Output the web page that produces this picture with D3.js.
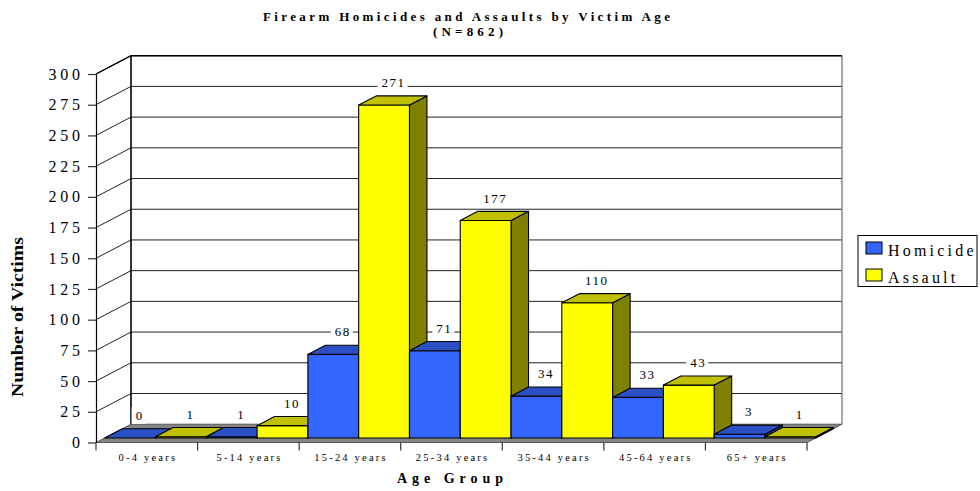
<!DOCTYPE html>
<html>
<head>
<meta charset="utf-8">
<script src="https://cdn.jsdelivr.net/npm/d3@7"></script>
<style>
  html, body { margin: 0; padding: 0; background: #ffffff; }
  svg { display: block; }
  text { font-family: "Liberation Serif", "Times New Roman", Times, serif; fill: #000; }
</style>
</head>
<body>
<script>
// Firearm victims by age group, two series
const categories = ["0-4 years", "5-14 years", "15-24 years", "25-34 years", "35-44 years", "45-64 years", "65+ years"];
const seriesNames = ["Homicide", "Assault"];
const homicide = [0, 1, 68, 71, 34, 33, 3];
const assault = [1, 10, 271, 177, 110, 43, 1];
const yTicks = [0, 25, 50, 75, 100, 125, 150, 175, 200, 225, 250, 275, 300];

const seriesValues = { Homicide: homicide, Assault: assault };
const palette = {
  Homicide: { front: "#3366ff", top: "#2a50c4", side: "#1d3a99" },
  Assault:  { front: "#ffff00", top: "#c0c000", side: "#808000" }
};

const W = 980, H = 491;
const svg = d3.select("body").append("svg").attr("width", W).attr("height", H);

// front plane of the plot and the depth vector of the 3-D box
const x0 = 96, x1 = 807, yBase = 442.5, yTop = 74;
const DX = 35, DY = -18.3;

const x = d3.scaleBand().domain(categories).range([x0, x1]).padding(0);
const xs = d3.scaleBand().domain(seriesNames).range([0, x.bandwidth()]).padding(0);
const y = d3.scaleLinear().domain([0, 300]).range([yBase, yTop]);

const line = d3.line();

// ---- walls ----
const walls = svg.append("g");
walls.append("path")
  .attr("d", line([[x0, y(300)], [x0 + DX, y(300) + DY], [x0 + DX, yBase + DY], [x0, yBase]]) + "Z")
  .attr("fill", "#fff");
walls.append("rect")
  .attr("x", x0 + DX).attr("y", y(300) + DY)
  .attr("width", x1 - x0).attr("height", yBase - y(300))
  .attr("fill", "#fff");

// gridlines on the back and left walls
const grid = svg.append("g").attr("stroke", "#222").attr("stroke-width", 1).attr("fill", "none");
yTicks.filter(t => t > 0).forEach(t => {
  grid.append("path").attr("d", line([[x0 + DX, y(t) + DY], [x1 + DX, y(t) + DY]]));
  grid.append("path").attr("d", line([[x0, y(t)], [x0 + DX, y(t) + DY]]));
});
// wall edges
svg.append("path")
  .attr("d", line([[x0 + DX, y(300) + DY], [x0 + DX, yBase + DY]]))
  .attr("stroke", "#000").attr("stroke-width", 1.6);
svg.append("path")
  .attr("d", line([[x1 + DX, y(300) + DY], [x1 + DX, yBase + DY]]))
  .attr("stroke", "#808080").attr("stroke-width", 1.4);
svg.append("path")
  .attr("d", line([[x0, y(300)], [x0 + DX, y(300) + DY], [x1 + DX, y(300) + DY]]))
  .attr("stroke", "#000").attr("stroke-width", 1.4).attr("fill", "none");

// floor
svg.append("path")
  .attr("d", line([[x0, yBase], [x1, yBase], [x1 + DX, yBase + DY], [x0 + DX, yBase + DY]]) + "Z")
  .attr("fill", "#858585").attr("stroke", "#555").attr("stroke-width", 1);

// ---- axes ----
const yAxis = svg.append("g")
  .attr("transform", `translate(${x0},0)`)
  .call(d3.axisLeft(y).tickValues(yTicks).tickSize(8).tickSizeOuter(0).tickPadding(8));
yAxis.select(".domain").attr("stroke", "#000").attr("stroke-width", 1.2);
yAxis.selectAll(".tick line").attr("stroke", "#333").attr("stroke-width", 1.2);
yAxis.selectAll(".tick text")
  .attr("font-size", 16)
  .attr("letter-spacing", 3.8)
  .attr("dx", 3.8);

// category boundary ticks under the floor
const bounds = categories.map(c => x(c)).concat([x1]);
svg.append("g").selectAll("line").data(bounds).join("line")
  .attr("x1", d => d).attr("x2", d => d)
  .attr("y1", yBase).attr("y2", yBase + 8)
  .attr("stroke", "#333").attr("stroke-width", 1.2);

const xAxis = svg.append("g")
  .attr("transform", `translate(0,${yBase})`)
  .call(d3.axisBottom(x).tickSize(0).tickPadding(11));
xAxis.select(".domain").remove();
xAxis.selectAll(".tick text")
  .attr("font-size", 10.5)
  .attr("letter-spacing", 2.2)
  .attr("dx", 1.1);

// ---- bars, drawn left to right so nearer faces overlap ----
const bars = svg.append("g");
const dF = 0.25, dB = 0.5;   // bar front depth fraction and bar thickness
categories.forEach((cat, i) => {
  seriesNames.forEach(s => {
    const v = seriesValues[s][i];
    const c = palette[s];
    const w = xs.bandwidth();
    const fx = x(cat) + xs(s) + DX * dF;
    const yt = y(v) + DY * dF;
    const yb = yBase + DY * dF;
    const ox = DX * dB, oy = DY * dB;
    const g = bars.append("g").attr("stroke", "#000").attr("stroke-width", 1.1).attr("stroke-linejoin", "round");
    g.append("path").attr("fill", c.side)
      .attr("d", line([[fx + w, yt], [fx + w + ox, yt + oy], [fx + w + ox, yb + oy], [fx + w, yb]]) + "Z");
    if (yb - yt > 0.5) {
      g.append("rect").attr("fill", c.front)
        .attr("x", fx).attr("y", yt).attr("width", w).attr("height", yb - yt);
    }
    g.append("path").attr("fill", c.top)
      .attr("d", line([[fx, yt], [fx + w, yt], [fx + w + ox, yt + oy], [fx + ox, yt + oy]]) + "Z");

    // value label on a white plate
    const lg = bars.append("g");
    const t = lg.append("text")
      .attr("x", fx + w / 2 + DX * dF + 0.75)
      .attr("y", yt - 18)
      .attr("text-anchor", "middle")
      .attr("font-size", 13)
      .attr("letter-spacing", 1.5)
      .text(v);
    const bb = t.node().getBBox();
    lg.insert("rect", "text")
      .attr("x", bb.x - 4).attr("y", bb.y - 1)
      .attr("width", bb.width + 6).attr("height", bb.height + 2)
      .attr("fill", "#fff");
  });
});

// ---- titles ----
svg.append("text")
  .attr("x", 466.5).attr("y", 21)
  .attr("text-anchor", "middle")
  .attr("font-weight", "bold").attr("font-size", 13)
  .attr("textLength", 407).attr("lengthAdjust", "spacing")
  .text("Firearm Homicides and Assaults by Victim Age");
svg.append("text")
  .attr("x", 468).attr("y", 36)
  .attr("text-anchor", "middle")
  .attr("font-weight", "bold").attr("font-size", 13)
  .attr("textLength", 70).attr("lengthAdjust", "spacing")
  .text("(N=862)");

svg.append("text")
  .attr("x", 450).attr("y", 483)
  .attr("text-anchor", "middle")
  .attr("font-weight", "bold").attr("font-size", 14)
  .attr("textLength", 106).attr("lengthAdjust", "spacing")
  .text("Age Group");

svg.append("text")
  .attr("transform", "translate(23,317) rotate(-90)")
  .attr("text-anchor", "middle")
  .attr("font-weight", "bold").attr("font-size", 17)
  .attr("textLength", 160).attr("lengthAdjust", "spacingAndGlyphs")
  .text("Number of Victims");

// ---- legend ----
const legend = svg.append("g");
legend.append("rect")
  .attr("x", 858).attr("y", 235.5).attr("width", 119).attr("height", 51)
  .attr("fill", "#fff").attr("stroke", "#000").attr("stroke-width", 1);
seriesNames.forEach((s, i) => {
  const yy = 242 + i * 27;
  legend.append("rect")
    .attr("x", 866).attr("y", yy).attr("width", 16).attr("height", 12)
    .attr("fill", palette[s].front).attr("stroke", "#000").attr("stroke-width", 1);
  legend.append("text")
    .attr("x", 888).attr("y", yy + 13.5)
    .attr("font-size", 16).attr("letter-spacing", 3.2)
    .text(s);
});
</script>
</body>
</html>
